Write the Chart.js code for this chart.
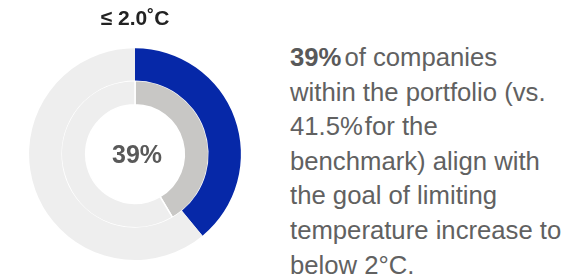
<!DOCTYPE html>
<html>
<head>
<meta charset="utf-8">
<script src="https://cdn.jsdelivr.net/npm/chart.js@4/dist/chart.umd.min.js"></script>
<style>
  html, body { margin: 0; padding: 0; background: #fff; }
  body { width: 588px; height: 279px; position: relative; overflow: hidden;
         font-family: "Liberation Sans", Arial, sans-serif; }
  #chartBox { position: absolute; left: 0; top: 0; width: 270px; height: 279px; }
  #note { position: absolute; left: 290px; top: 40px; width: 295px;
          font-size: 25.7px; line-height: 34.6px; color: #616161; }
  #note b { color: #595959; }
</style>
</head>
<body>
<div id="chartBox"><canvas id="alignChart"></canvas></div>
<div id="note"><b>39%</b><span style="margin-left:3px">of companies</span><br>within the portfolio (vs.<br>41.5%<span style="margin-left:2px">for the</span><br>benchmark) align with<br>the goal of limiting<br>temperature increase to<br>below 2°C.</div>

<script>
// ==========================
// Data
// ==========================
const chartTitle = "≤ 2.0˚C";
const categories = ["Aligned", "Not aligned"];
const portfolioValues = [39, 61];      // outer ring
const benchmarkValues = [41.5, 58.5];  // inner ring
const centerLabel = "39%";

// draws the big number in the middle of the doughnut
const centerText = {
    id: "centerText",
    afterDraw(chart) {
        const meta = chart.getDatasetMeta(0);
        if (!meta.data.length) return;
        const { x, y } = meta.data[0];
        const ctx = chart.ctx;
        ctx.save();
        ctx.font = "bold 25px 'Liberation Sans', Arial, sans-serif";
        ctx.fillStyle = "#595959";
        ctx.textAlign = "center";
        ctx.textBaseline = "middle";
        ctx.fillText(centerLabel, x + 2, y + 2);
        ctx.restore();
    }
};

new Chart(document.getElementById("alignChart"), {
    type: "doughnut",
    data: {
        labels: categories,
        datasets: [
            {
                label: "Portfolio",
                data: portfolioValues,
                backgroundColor: ["#0628a8", "#eeeeee"],
                borderWidth: 0,
                weight: 4
            },
            {
                label: "Benchmark",
                data: benchmarkValues,
                backgroundColor: ["#c8c7c5", "#eeeeee"],
                borderColor: "#ffffff",
                borderWidth: 1.5,
                weight: 3
            }
        ]
    },
    options: {
        responsive: true,
        maintainAspectRatio: false,
        animation: false,
        cutout: "46.6%",
        layout: { padding: { left: 29, right: 29, top: 0, bottom: 19 } },
        plugins: {
            legend: { display: false },
            tooltip: { enabled: false },
            title: {
                display: true,
                text: chartTitle,
                color: "#222222",
                font: { family: "'Liberation Sans', Arial, sans-serif", size: 21, weight: "bold" },
                padding: { top: 7, bottom: 16 }
            }
        }
    },
    plugins: [centerText]
});
</script>
</body>
</html>
